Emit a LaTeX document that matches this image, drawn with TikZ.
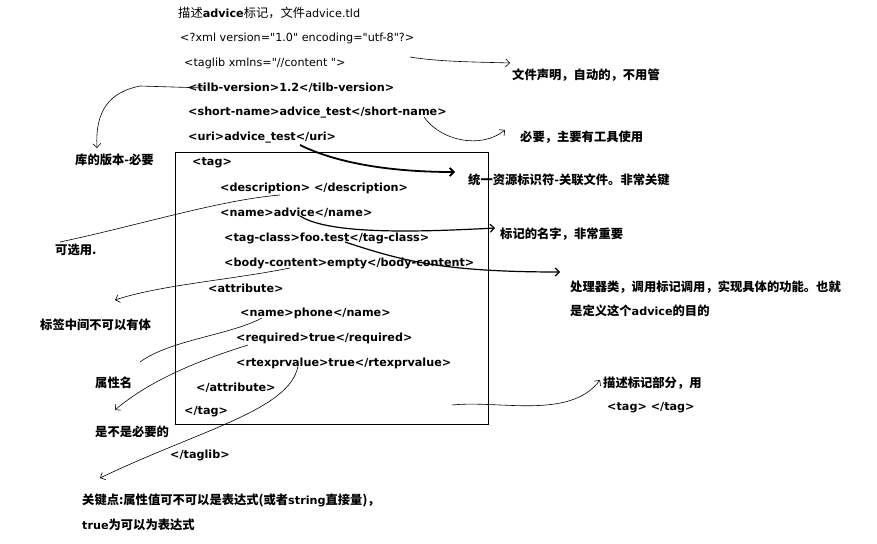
\documentclass[tikz,border=0pt]{standalone}
\usepackage{fontspec}
\setmainfont{Noto Sans CJK SC}
\newfontfamily\lat{DejaVu Sans}
\usetikzlibrary{arrows.meta}
\begin{document}
\begin{tikzpicture}[x=1pt,y=-1pt,
  code/.style={anchor=west,inner sep=0pt,font=\fontsize{11.2}{12}\selectfont\lat\bfseries},
  plain/.style={anchor=west,inner sep=0pt,font=\fontsize{11.2}{12}\selectfont\lat},
  note/.style={anchor=west,inner sep=0pt,font=\fontsize{12.3}{12}\selectfont\bfseries},
  inote/.style={note,font=\fontsize{12.3}{12}\selectfont\bfseries\itshape},
  hand/.style={draw,line width=0.6pt,-{Straight Barb[length=4pt]}},
  handn/.style={draw,line width=0.6pt}]
\useasboundingbox (0,0) rectangle (877,543);
\node[anchor=west,inner sep=0pt,font=\fontsize{12.3}{12}\selectfont] (t0) at (178,13) {描述{\lat\bfseries\fontsize{11.2}{12}\selectfont advice}标记，文件{\lat\fontsize{11.2}{12}\selectfont advice.tld}};
\node[plain] (t1) at (180,38) {<?xml version="1.0" encoding="utf-8"?>};
\node[plain] (t2) at (184,63) {<taglib xmlns="//content ">};
\node[code] (t3) at (188,88) {<tilb-version>1.2</tilb-version>};
\node[code] (t4) at (188,113) {<short-name>advice\_test</short-name>};
\node[code] (t5) at (188,138) {<uri>advice\_test</uri>};
\node[draw,line width=0.6pt,minimum width=313pt,minimum height=272pt,anchor=north west,inner sep=0pt] (box) at (175,152) {};
\node[code] (c1) at (192,163) {<tag>};
\node[code] (c2) at (220,188) {<description> </description>};
\node[code] (c3) at (220,213) {<name>advice</name>};
\node[code] (c4) at (224,238) {<tag-class>foo.test</tag-class>};
\node[code] (c5) at (224,263) {<body-content>empty</body-content>};
\node[code] (c6) at (208,288) {<attribute>};
\node[code] (c7) at (240,313) {<name>phone</name>};
\node[code] (c8) at (236,338) {<required>true</required>};
\node[code] (c9) at (236,363) {<rtexprvalue>true</rtexprvalue>};
\node[code] (c10) at (196,388) {</attribute>};
\node[code] (c11) at (184,412) {</tag>};
\node[code] (c12) at (170,455) {</taglib>};

\node[inote] (n1) at (512,75) {文件声明，自动的，不用管};
\node[note] (n2) at (520,137) {必要，主要有工具使用};
\node[inote] (n3) at (75,160) {库的版本-必要};
\node[inote] (n4) at (468,180) {统一资源标识符-关联文件。非常关键};
\node[note] (n5) at (55,250) {可选用.};
\node[note] (n6) at (500,234) {标记的名字，非常重要};
\node[note] (n7) at (570,287) {处理器类，调用标记调用，实现具体的功能。也就};
\node[note] (n7b) at (570,311) {是定义这个{\lat\fontsize{11.2}{12}\selectfont advice}的目的};
\node[note] (n8) at (40,325) {标签中间不可以有体};
\node[note] (n9) at (95,383) {属性名};
\node[note] (n10) at (603,383) {描述标记部分，用};
\node[code] (n10b) at (607,408) {<tag> </tag>};
\node[note] (n11) at (95,432) {是不是必要的};
\node[note] (n12) at (82,500) {关键点:属性值可不可以是表达式(或者{\lat\fontsize{11.2}{12}\selectfont string}直接量)，};
\node[note] (n12b) at (82,525) {{\lat\fontsize{11.2}{12}\selectfont true}为可以为表达式};

\coordinate (a1) at (410,57); \coordinate (a1e) at (510,63);
\path[hand] (a1) .. controls (440,62) and (480,62) .. (a1e);
\coordinate (a2) at (424,117); \coordinate (a2e) at (505,130);
\path[hand] (a2) .. controls (440,140) and (480,150) .. (a2e);
\coordinate (a3) at (205,88); \coordinate (a3e) at (97,148);
\path[hand] (a3) -- (140,86) .. controls (110,92) and (95,110) .. (a3e);
\coordinate (a4) at (300,145); \coordinate (a4e) at (455,172);
\path[hand,line width=1.8pt] (a4) .. controls (330,160) and (380,172) .. (a4e);
\coordinate (a5) at (280,195); \coordinate (a5e) at (60,242);
\path[handn] (a5) .. controls (220,200) and (140,225) .. (a5e);
\coordinate (a6) at (300,216); \coordinate (a6e) at (495,228);
\path[hand,line width=1.2pt] (a6) .. controls (330,235) and (420,232) .. (a6e);
\coordinate (a7) at (345,242); \coordinate (a7e) at (560,272);
\path[hand,line width=1.2pt] (a7) .. controls (400,260) and (440,272) .. (a7e);
\coordinate (a8) at (290,268); \coordinate (a8e) at (115,300);
\path[hand] (a8) .. controls (230,280) and (160,285) .. (a8e);
\coordinate (a9) at (262,318); \coordinate (a9e) at (140,362);
\path[handn] (a9) .. controls (230,335) and (170,340) .. (a9e);
\coordinate (a10) at (248,345); \coordinate (a10e) at (115,410);
\path[hand] (a10) .. controls (200,360) and (150,380) .. (a10e);
\coordinate (a11) at (298,366); \coordinate (a11e) at (100,478);
\path[hand] (a11) .. controls (290,410) and (200,430) .. (a11e);
\coordinate (a12) at (452,405); \coordinate (a12e) at (600,380);
\path[hand] (a12) .. controls (500,400) and (570,420) .. (a12e);
\end{tikzpicture}
\end{document}
